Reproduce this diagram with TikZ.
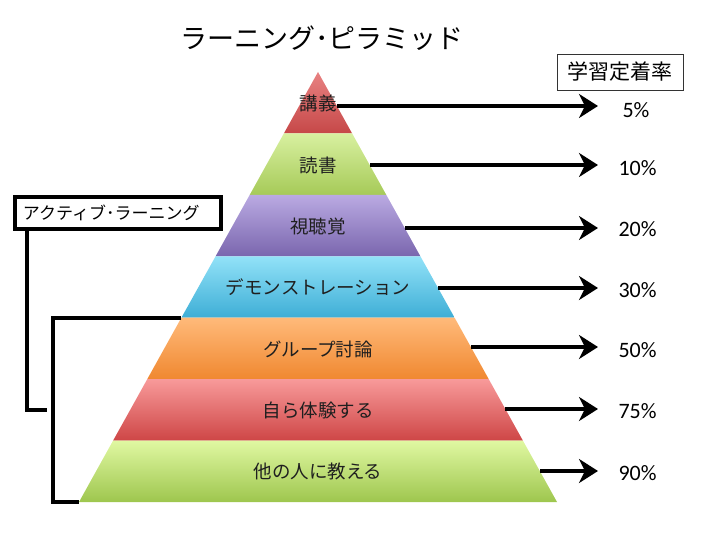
\documentclass[tikz,border=0pt]{standalone}
\usepackage{fontspec}
\setmainfont{Noto Sans CJK JP}
\newfontfamily\ratefont{Carlito}
\usepackage{xcolor}
\usepackage{tikz}
\usetikzlibrary{arrows.meta}

\definecolor{lecTop}{HTML}{E88282}
\definecolor{lecBot}{HTML}{C64848}
\definecolor{readTop}{HTML}{D8F0A0}
\definecolor{readBot}{HTML}{A6CA58}
\definecolor{avTop}{HTML}{BAAAE2}
\definecolor{avBot}{HTML}{7A66AE}
\definecolor{demoTop}{HTML}{92E2F8}
\definecolor{demoBot}{HTML}{3EAED6}
\definecolor{grpTop}{HTML}{FFBA7A}
\definecolor{grpBot}{HTML}{F08830}
\definecolor{expTop}{HTML}{F89A9A}
\definecolor{expBot}{HTML}{CE4646}
\definecolor{teachTop}{HTML}{E0F8A2}
\definecolor{teachBot}{HTML}{9EC64E}

\begin{document}
\begin{tikzpicture}[
    x=1pt, y=-1pt,
    every node/.style={font=\fontsize{18.5}{21}\selectfont, text=black!88},
    level/.style={inner sep=0pt},
    rate/.style={font=\ratefont\fontsize{22}{24}\selectfont, anchor=west, text=black},
    arr/.style={-{Stealth[length=19pt, width=24pt, inset=6pt]}, line width=4pt},
    bracket/.style={line width=4pt},
    rate_box/.style={draw=black!80, line width=0.8pt, minimum width=126pt, minimum height=36pt, font=\fontsize{21}{24}\selectfont, text=black},
    al_box/.style={draw=black, line width=4pt, text width=190pt, align=left, inner xsep=8pt, minimum height=32pt, font=\fontsize{17}{19}\selectfont, text=black}
]
\useasboundingbox (0,0) rectangle (720,540);

% Pyramid bands
\shade[top color=lecTop, bottom color=lecBot] (318,72) -- (352.1,133.4) -- (283.9,133.4) -- cycle;
\shade[top color=readTop, bottom color=readBot] (283.9,133.4) -- (352.1,133.4) -- (386.3,194.9) -- (249.7,194.9) -- cycle;
\shade[top color=avTop, bottom color=avBot] (249.7,194.9) -- (386.3,194.9) -- (420.4,256.3) -- (215.6,256.3) -- cycle;
\shade[top color=demoTop, bottom color=demoBot] (215.6,256.3) -- (420.4,256.3) -- (454.6,317.7) -- (181.4,317.7) -- cycle;
\shade[top color=grpTop, bottom color=grpBot] (181.4,317.7) -- (454.6,317.7) -- (488.7,379.1) -- (147.3,379.1) -- cycle;
\shade[top color=expTop, bottom color=expBot] (147.3,379.1) -- (488.7,379.1) -- (522.9,440.6) -- (113.1,440.6) -- cycle;
\shade[top color=teachTop, bottom color=teachBot] (113.1,440.6) -- (522.9,440.6) -- (557,502) -- (79,502) -- cycle;

% Corners used by the bracket
\coordinate (l4) at (181.4,317.7);
\coordinate (l7) at (79,502);

% Title and header
\node[font=\fontsize{27}{30}\selectfont, text=black] (title) at (322,38) {ラーニング･ピラミッド};
\node[rate_box] (ratehead) at (620,72) {学習定着率};

% Level labels
\node[level] (lv1) at (318,103) {講義};
\node[level] (lv2) at (318,165) {読書};
\node[level] (lv3) at (318,226) {視聴覚};
\node[level] (lv4) at (318,287) {デモンストレーション};
\node[level] (lv5) at (318,349) {グループ討論};
\node[level] (lv6) at (318,410) {自ら体験する};
\node[level] (lv7) at (318,471) {他の人に教える};

% Rates
\node[rate] (p1) at (619,110) {5\%};
\node[rate] (p2) at (615,168) {10\%};
\node[rate] (p3) at (615,229) {20\%};
\node[rate] (p4) at (615,290) {30\%};
\node[rate] (p5) at (615,350) {50\%};
\node[rate] (p6) at (615,411) {75\%};
\node[rate] (p7) at (615,473) {90\%};

% Arrow ends (pyramid edge -> tip)
\coordinate (s1) at (337,106);  \coordinate (t1) at (598,106);
\coordinate (s2) at (370,165);  \coordinate (t2) at (598,165);
\coordinate (s3) at (405,228);  \coordinate (t3) at (598,228);
\coordinate (s4) at (438,288);  \coordinate (t4) at (598,288);
\coordinate (s5) at (471,347);  \coordinate (t5) at (598,347);
\coordinate (s6) at (505,409);  \coordinate (t6) at (598,409);
\coordinate (s7) at (540,471);  \coordinate (t7) at (598,471);

\draw[arr] (s1) -- (t1);
\draw[arr] (s2) -- (t2);
\draw[arr] (s3) -- (t3);
\draw[arr] (s4) -- (t4);
\draw[arr] (s5) -- (t5);
\draw[arr] (s6) -- (t6);
\draw[arr] (s7) -- (t7);

% Active learning bracket
\node[al_box, anchor=west] (al) at (13,213) {アクティブ･ラーニング};
\coordinate (b1) at (47,410);
\coordinate (b2) at (53,502);
\draw[bracket] ([xshift=14pt]al.south west) |- (b1);
\draw[bracket] (l4) -| (b2) -- (l7);

\end{tikzpicture}
\end{document}
